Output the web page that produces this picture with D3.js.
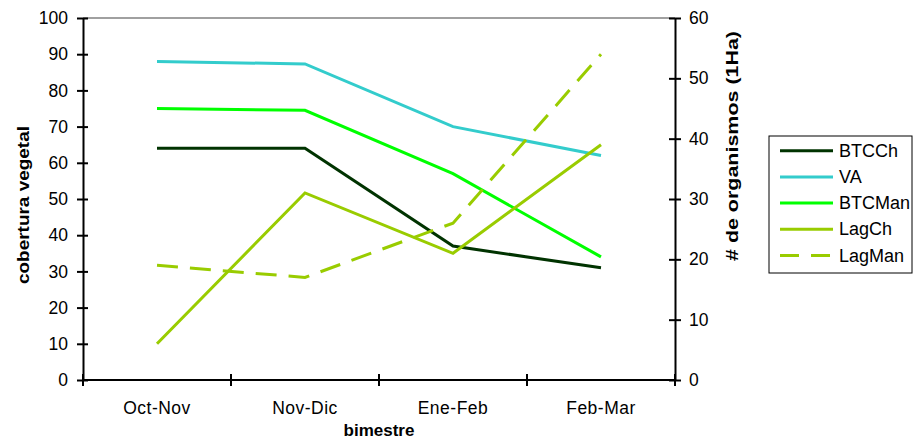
<!DOCTYPE html>
<html>
<head>
<meta charset="utf-8">
<script src="https://cdn.jsdelivr.net/npm/d3@7/dist/d3.min.js"></script>
<style>
  html, body { margin: 0; padding: 0; background: #fff; }
  svg { display: block; font-family: "Liberation Sans", Arial, sans-serif; }
  .axis path, .axis line { stroke: #000; stroke-width: 2; }
  .axis text { font-size: 17.5px; fill: #000; }
</style>
</head>
<body>
<svg id="chart" width="913" height="441"></svg>
<script>
// Bimonthly periods
const categories = ["Oct-Nov", "Nov-Dic", "Ene-Feb", "Feb-Mar"];

// Vegetation cover (left axis)
const btcch  = [64, 64, 37, 31];
const va     = [88, 87.3, 70, 62];
const btcman = [75, 74.5, 57, 34];

// Organism counts per hectare (right axis)
const lagch  = [6, 31, 21, 39];
const lagman = [19, 17, 26, 54];

const leftTicks  = [0, 10, 20, 30, 40, 50, 60, 70, 80, 90, 100];
const rightTicks = [0, 10, 20, 30, 40, 50, 60];

const seriesNames = ["BTCCh", "VA", "BTCMan", "LagCh", "LagMan"];

const series = [
  { name: "BTCCh",  values: btcch,  axis: "left",  color: "#003300", dash: null },
  { name: "VA",     values: va,     axis: "left",  color: "#33CCCC", dash: null },
  { name: "BTCMan", values: btcman, axis: "left",  color: "#00FF00", dash: null },
  { name: "LagCh",  values: lagch,  axis: "right", color: "#99CC00", dash: null },
  { name: "LagMan", values: lagman, axis: "right", color: "#99CC00", dash: "21,12" }
];

const plot = { left: 83, right: 675, top: 18, bottom: 380 };

const svg = d3.select("#chart");

const xBand = d3.scaleBand().domain(categories).range([plot.left, plot.right]).padding(0);
const xMid = c => xBand(c) + xBand.bandwidth() / 2;

const yLeft  = d3.scaleLinear().domain([0, 100]).range([plot.bottom, plot.top]);
const yRight = d3.scaleLinear().domain([0, 60]).range([plot.bottom, plot.top]);

// top border of plot area
svg.append("line")
  .attr("x1", plot.left).attr("x2", plot.right)
  .attr("y1", plot.top).attr("y2", plot.top)
  .attr("stroke", "#808080").attr("stroke-width", 1.5);

// left axis
const gL = svg.append("g").attr("class", "axis")
  .attr("transform", `translate(${plot.left},0)`)
  .call(d3.axisLeft(yLeft).tickValues(leftTicks).tickSize(6).tickPadding(9).tickSizeOuter(0));
gL.selectAll(".tick line").attr("x2", -6).attr("x1", 5);

// right axis
const gR = svg.append("g").attr("class", "axis")
  .attr("transform", `translate(${plot.right},0)`)
  .call(d3.axisRight(yRight).tickValues(rightTicks).tickSize(6).tickPadding(8).tickSizeOuter(0));
gR.selectAll(".tick line").attr("x2", 6).attr("x1", -6);

// bottom axis: labels at category centres, ticks at band boundaries
const gB = svg.append("g").attr("class", "axis")
  .attr("transform", `translate(0,${plot.bottom})`)
  .call(d3.axisBottom(xBand).tickSize(0).tickPadding(22).tickSizeOuter(0));
gB.select(".domain").attr("d", `M${plot.left},0H${plot.right}`);
gB.selectAll(".tick line").remove();
gB.selectAll(".tick text").attr("letter-spacing", "0.5px");
const bounds = categories.map(c => xBand(c)).concat([plot.right]);
gB.selectAll(".bound").data(bounds).enter().append("line")
  .attr("class", "bound")
  .attr("x1", d => d).attr("x2", d => d)
  .attr("y1", -6).attr("y2", 6);

// axis titles
svg.append("text")
  .attr("transform", `translate(29,205) rotate(-90)`)
  .attr("text-anchor", "middle")
  .attr("font-weight", "bold").attr("font-size", 17)
  .attr("textLength", 158).attr("lengthAdjust", "spacingAndGlyphs")
  .text("cobertura vegetal");

svg.append("text")
  .attr("x", 379).attr("y", 436)
  .attr("text-anchor", "middle")
  .attr("font-weight", "bold").attr("font-size", 17)
  .text("bimestre");

svg.append("text")
  .attr("transform", `translate(738,146) rotate(-90)`)
  .attr("text-anchor", "middle")
  .attr("font-weight", "bold").attr("font-size", 17)
  .attr("textLength", 230).attr("lengthAdjust", "spacingAndGlyphs")
  .text("# de organismos (1Ha)");

// series lines
series.forEach(s => {
  const y = s.axis === "left" ? yLeft : yRight;
  const line = d3.line()
    .x((d, i) => xMid(categories[i]))
    .y(d => y(d));
  svg.append("path")
    .datum(s.values)
    .attr("d", line)
    .attr("fill", "none")
    .attr("stroke", s.color)
    .attr("stroke-width", 3)
    .attr("stroke-dasharray", s.dash);
});

// legend
const lg = svg.append("g");
lg.append("rect")
  .attr("x", 769).attr("y", 136).attr("width", 143).attr("height", 137)
  .attr("fill", "#fff").attr("stroke", "#000").attr("stroke-width", 1);
const rowY = d3.scalePoint().domain(seriesNames).range([150.7, 255.5]);
series.forEach(s => {
  const yy = rowY(s.name);
  lg.append("line")
    .attr("x1", 780).attr("x2", 833).attr("y1", yy).attr("y2", yy)
    .attr("stroke", s.color).attr("stroke-width", 3)
    .attr("stroke-dasharray", s.dash ? "19,12" : null);
  lg.append("text")
    .attr("x", 839).attr("y", yy + 6)
    .attr("font-size", 18)
    .text(s.name);
});
</script>
</body>
</html>
